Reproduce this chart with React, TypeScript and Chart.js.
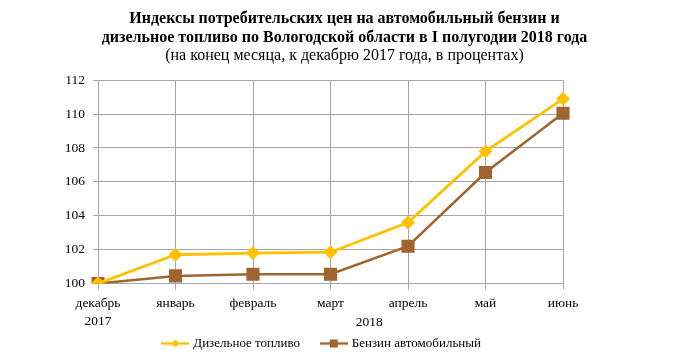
import React, { useEffect, useRef } from "react";
import { Chart, registerables } from "chart.js";

Chart.register(...registerables);

const categories: (string | string[])[] = [["декабрь", "2017"], "январь", "февраль", "март", "апрель", "май", "июнь"];
const dieselValues = [100, 101.7, 101.8, 101.85, 103.6, 107.8, 110.9];
const petrolValues = [100, 100.45, 100.55, 100.55, 102.2, 106.55, 110.05];
const yTicks = [100, 102, 104, 106, 108, 110, 112];
const titleLines = [
  "Индексы потребительских цен на автомобильный бензин и",
  "дизельное топливо по Вологодской области в I полугодии 2018 года",
];
const subtitleText = "(на конец месяца, к декабрю 2017 года, в процентах)";
const yearLabel = "2018";
const seriesNames = ["Дизельное топливо", "Бензин автомобильный"];

const FONT = "'Liberation Serif', 'Times New Roman', serif";
const DIESEL = "#FFC000";
const PETROL = "#A0652E";
const GRID = "#A6A6A6";
const PAD = "\u00a0\u00a0\u00a0\u00a0\u00a0";

function makeLegendIcon(color: string, style: "diamond" | "square"): HTMLCanvasElement {
  const c = document.createElement("canvas");
  c.width = 28;
  c.height = 12;
  const g = c.getContext("2d")!;
  g.strokeStyle = color;
  g.lineWidth = 2.5;
  g.beginPath();
  g.moveTo(0, 6);
  g.lineTo(28, 6);
  g.stroke();
  g.fillStyle = color;
  if (style === "diamond") {
    g.beginPath();
    g.moveTo(14, 2);
    g.lineTo(18, 6);
    g.lineTo(14, 10);
    g.lineTo(10, 6);
    g.closePath();
    g.fill();
  } else {
    g.fillRect(10, 2, 8, 8);
  }
  return c;
}

const yearPlugin = {
  id: "yearLabel",
  afterDraw(chart: any) {
    const xs = chart.scales.x;
    const ctx = chart.ctx;
    const x = (xs.getPixelForValue(1) + xs.getPixelForValue(6)) / 2;
    const y = xs.top + 39;
    ctx.save();
    ctx.font = `13.5px ${FONT}`;
    ctx.fillStyle = "#000";
    ctx.textAlign = "center";
    ctx.textBaseline = "middle";
    ctx.fillText(yearLabel, x, y);
    ctx.restore();
  },
};

export default function App() {
  const ref = useRef<HTMLCanvasElement>(null);
  useEffect(() => {
    document.body.style.margin = "0";
    const icons = [makeLegendIcon(DIESEL, "diamond"), makeLegendIcon(PETROL, "square")];
    const chart = new Chart(ref.current!, {
      type: "line",
      data: {
        labels: categories,
        datasets: [
          {
            label: seriesNames[0],
            data: dieselValues,
            borderColor: DIESEL,
            backgroundColor: DIESEL,
            borderWidth: 2.8,
            pointStyle: "rectRot",
            pointRadius: 5,
            pointHoverRadius: 5,
            tension: 0,
          },
          {
            label: seriesNames[1],
            data: petrolValues,
            borderColor: PETROL,
            backgroundColor: PETROL,
            borderWidth: 2.5,
            pointStyle: "rect",
            pointRadius: 7.5,
            pointHoverRadius: 7.5,
            tension: 0,
          },
        ],
      },
      options: {
        animation: false,
        responsive: true,
        maintainAspectRatio: false,
        layout: { padding: { left: 0, right: 0, top: 10, bottom: 2 } },
        plugins: {
          title: {
            display: true,
            text: titleLines,
            color: "#000",
            font: { family: FONT, size: 16, weight: "bold", lineHeight: 1.15 },
            padding: { top: 0, bottom: 0 },
          },
          subtitle: {
            display: true,
            text: subtitleText,
            color: "#000",
            font: { family: FONT, size: 16, lineHeight: 1.15 },
            padding: { top: 0, bottom: 15 },
          },
          legend: {
            position: "bottom",
            fullSize: false,
            labels: {
              color: "#000",
              font: { family: FONT, size: 13 },
              usePointStyle: true,
              pointStyleWidth: 23,
              padding: 6,
              generateLabels: (ch: any) =>
                ch.data.datasets.map((ds: any, i: number) => ({
                  text: ds.label + PAD,
                  pointStyle: icons[i],
                  fillStyle: ds.borderColor,
                  strokeStyle: ds.borderColor,
                  lineWidth: 0,
                  datasetIndex: i,
                  hidden: false,
                  fontColor: "#000",
                })),
            },
          },
          tooltip: { enabled: false },
        },
        scales: {
          x: {
            type: "category",
            offset: false,
            grid: { color: GRID, tickLength: 6, drawTicks: true },
            border: { color: GRID },
            ticks: {
              color: "#000",
              font: { family: FONT, size: 13.5, lineHeight: 1.35 },
              maxRotation: 0,
              autoSkip: false,
              padding: 5,
            },
            afterFit: (axis: any) => {
              axis.height = axis.height - 5;
            },
          },
          y: {
            min: 100,
            max: 112,
            afterBuildTicks: (axis: any) => {
              axis.ticks = yTicks.map((v) => ({ value: v }));
            },
            grid: { color: GRID, tickLength: 5 },
            border: { color: GRID },
            ticks: {
              color: "#000",
              font: { family: FONT, size: 13.5 },
              padding: 8,
            },
            afterFit: (axis: any) => {
              axis.width = 98;
            },
          },
          y2: {
            position: "right",
            display: true,
            grid: { display: false },
            border: { display: false },
            ticks: { display: false },
            afterFit: (axis: any) => {
              axis.width = 126;
            },
          },
        },
      },
      plugins: [yearPlugin],
    });
    return () => chart.destroy();
  }, []);
  return (
    <div style={{ width: 689, height: 362, position: "relative" }}>
      <canvas ref={ref} />
    </div>
  );
}
